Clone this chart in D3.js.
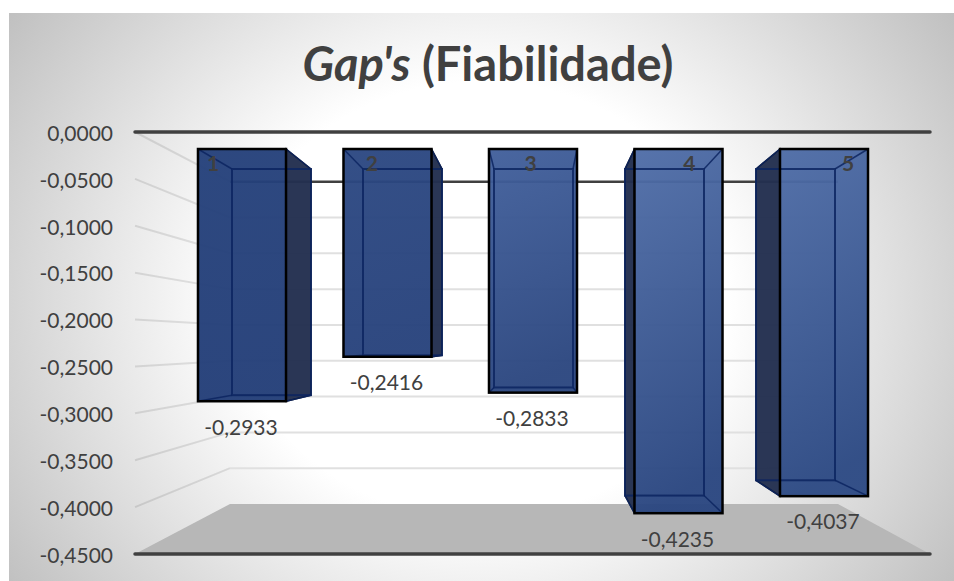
<!DOCTYPE html>
<html>
<head>
<meta charset="utf-8">
<script src="https://cdn.jsdelivr.net/npm/d3@7"></script>
<style>
    html, body { margin: 0; padding: 0; background: #fff; }
    svg { display: block; }
    text { font-family: Lato, "Open Sans", sans-serif; fill: #404040; }
</style>
</head>
<body>
<svg id="svgGaps" width="954" height="581"></svg>
<script>
const categories = ['1', '2', '3', '4', '5'];
const gapValues = [-0.2933, -0.2416, -0.2833, -0.4235, -0.4037];
const axisTicks = [0, -0.05, -0.1, -0.15, -0.2, -0.25, -0.3, -0.35, -0.4, -0.45];
const barTopColors = ['#25417b', '#2c4882', '#42609c', '#506ea8', '#4f6da7'];
const barBottomColors = ['#233e78', '#27427c', '#2b467f', '#2a4680', '#2d4a84'];

const width = 954;
const height = 581;

const svg = d3.select('#svgGaps');
const defs = svg.append('defs');

// Comma decimals, as in the original
const fmt = d3.formatLocale({decimal: ',', thousands: '.', grouping: [3], currency: ['', ''], minus: '-'}).format('.4f');

// Front and back planes of the 3D box
const yFront = d3.scaleLinear().domain([0, -0.45]).range([132, 554]);
const yBack = d3.scaleLinear().domain([0, -0.45]).range([181.7, 504]);
const yBarFront = d3.scaleLinear().domain([0, -0.45]).range([149, 536]);
const yBarBack = d3.scaleLinear().domain([0, -0.45]).range([169, 516]);

const xBarFront = d3.scaleBand().domain(categories).range([169.25, 896.75])
    .paddingInner(0.395).paddingOuter(0.1975);
const xBarBack = d3.scaleBand().domain(categories).range([206, 861])
    .paddingInner(0.397).paddingOuter(0.1985);
const xCategory = d3.scalePoint().domain(categories).range([213, 848]);

const frontLeft = 135, frontRight = 930, backLeft = 230, backRight = 838;

// Background
const bg = defs.append('radialGradient')
    .attr('id', 'bgGradient')
    .attr('gradientUnits', 'userSpaceOnUse')
    .attr('cx', 0).attr('cy', 0).attr('r', 1)
    .attr('gradientTransform', 'translate(481,300) scale(590,520)');
bg.append('stop').attr('offset', 0.42).attr('stop-color', '#ffffff');
bg.append('stop').attr('offset', 1).attr('stop-color', '#bdbdbd');

svg.append('rect')
    .attr('x', 9).attr('y', 13)
    .attr('width', width - 9).attr('height', height - 13)
    .style('fill', 'url(#bgGradient)');

// Floor
svg.append('polygon')
    .attr('points', [
        [frontLeft, yFront(-0.45)], [frontRight, yFront(-0.45)],
        [backRight, yBack(-0.45)], [backLeft, yBack(-0.45)]
    ].join(' '))
    .style('fill', '#b7b7b7');

// Gridlines on the back wall and the left wall
const grid = svg.append('g');
const isEdge = d => d === 0 || d === -0.45;

grid.selectAll('.wallLine')
    .data(axisTicks.filter(d => d !== -0.45))
    .join('line')
        .classed('wallLine', true)
        .attr('x1', frontLeft).attr('y1', d => yFront(d))
        .attr('x2', backLeft).attr('y2', d => yBack(d))
        .style('stroke', '#000').style('stroke-opacity', 0.1).style('stroke-width', 2);

grid.selectAll('.backLine')
    .data(axisTicks.filter(d => d !== -0.45))
    .join('line')
        .classed('backLine', true)
        .attr('x1', backLeft).attr('y1', d => yBack(d))
        .attr('x2', backRight).attr('y2', d => yBack(d))
        .style('stroke', d => isEdge(d) ? '#404040' : '#e0e0e0')
        .style('stroke-width', d => isEdge(d) ? 2.5 : 2);

grid.selectAll('.frontLine')
    .data([0, -0.45])
    .join('line')
        .classed('frontLine', true)
        .attr('x1', frontLeft).attr('y1', d => yFront(d))
        .attr('x2', frontRight).attr('y2', d => yFront(d))
        .style('stroke', '#404040').style('stroke-width', 3.5)
        .style('stroke-linecap', 'round');

// Axis
const axis = svg.append('g')
    .attr('transform', 'translate(113,1.5)')
    .call(d3.axisLeft(yFront).tickValues(axisTicks).tickFormat(fmt).tickSize(0).tickPadding(0));
axis.select('.domain').remove();
axis.selectAll('text').style('font-size', '21px').style('fill', '#404040')
    .style('font-family', 'Lato, "Open Sans", sans-serif');

// Bars
const bars = svg.selectAll('.bar')
    .data(categories.map((c, i) => ({c, i, v: gapValues[i]})))
    .join('g')
        .classed('bar', true);

bars.each(function(d) {
    const g = d3.select(this);
    const fl = xBarFront(d.c), fr = fl + xBarFront.bandwidth();
    const bl = xBarBack(d.c), br = bl + xBarBack.bandwidth();
    const ft = yBarFront(0), fb = yBarFront(d.v);
    const bt = yBarBack(0), bb = yBarBack(d.v);

    const grad = defs.append('linearGradient')
        .attr('id', `barGradient${d.i}`)
        .attr('x1', 0).attr('y1', 0).attr('x2', 0.15).attr('y2', 1);
    grad.append('stop').attr('offset', 0).attr('stop-color', barTopColors[d.i]);
    grad.append('stop').attr('offset', 1).attr('stop-color', barBottomColors[d.i]);

    // Dark side face, only where it sticks out from the front
    if (br > fr) {
        g.append('polygon')
            .attr('points', [[fr, ft], [br, bt], [br, bb], [fr, fb]].join(' '))
            .style('fill', '#232f50').style('fill-opacity', 0.97)
            .style('stroke', '#0c1428').style('stroke-width', 1.5);
    }
    if (bl < fl) {
        g.append('polygon')
            .attr('points', [[fl, ft], [bl, bt], [bl, bb], [fl, fb]].join(' '))
            .style('fill', '#232f50').style('fill-opacity', 0.97)
            .style('stroke', '#0c1428').style('stroke-width', 1.5);
    }

    // Front face
    g.append('rect')
        .attr('x', fl).attr('y', ft)
        .attr('width', fr - fl).attr('height', fb - ft)
        .style('fill', `url(#barGradient${d.i})`)
        .style('fill-opacity', 0.96);

    // Back edges and corner edges seen through the front
    g.append('rect')
        .attr('x', bl).attr('y', bt)
        .attr('width', br - bl).attr('height', bb - bt)
        .style('fill', 'none')
        .style('stroke', '#0c2560').style('stroke-width', 2).style('stroke-opacity', 0.85);

    g.selectAll('.edge')
        .data([[fl, ft, bl, bt], [fr, ft, br, bt], [fl, fb, bl, bb], [fr, fb, br, bb]])
        .join('line')
            .classed('edge', true)
            .attr('x1', e => e[0]).attr('y1', e => e[1])
            .attr('x2', e => e[2]).attr('y2', e => e[3])
            .style('stroke', '#0c2560').style('stroke-width', 1.5).style('stroke-opacity', 0.85);

    g.append('rect')
        .attr('x', fl).attr('y', ft)
        .attr('width', fr - fl).attr('height', fb - ft)
        .style('fill', 'none')
        .style('stroke', '#000').style('stroke-width', 2.5);
});

// Data labels
svg.selectAll('.valueLabel')
    .data(categories.map((c, i) => ({c, v: gapValues[i]})))
    .join('text')
        .classed('valueLabel', true)
        .attr('x', d => xBarFront(d.c) + xBarFront.bandwidth() / 2 - 1)
        .attr('y', d => yBarFront(d.v) + 28)
        .attr('dominant-baseline', 'middle')
        .style('text-anchor', 'middle')
        .style('font-size', '21px')
        .text(d => fmt(d.v));

// Category labels sit over the bars
svg.selectAll('.categoryLabel')
    .data(categories)
    .join('text')
        .classed('categoryLabel', true)
        .attr('x', d => xCategory(d))
        .attr('y', 166)
        .attr('dominant-baseline', 'middle')
        .style('text-anchor', 'middle')
        .style('font-size', '21px')
        .style('font-weight', 'bold')
        .text(d => d);

// Title
const title = svg.append('text')
    .attr('x', 488).attr('y', 81)
    .style('text-anchor', 'middle')
    .style('font-size', '47px')
    .style('font-weight', 'bold');
title.append('tspan').style('font-style', 'italic').text("Gap's");
title.append('tspan').text(' (Fiabilidade)');
</script>
</body>
</html>
